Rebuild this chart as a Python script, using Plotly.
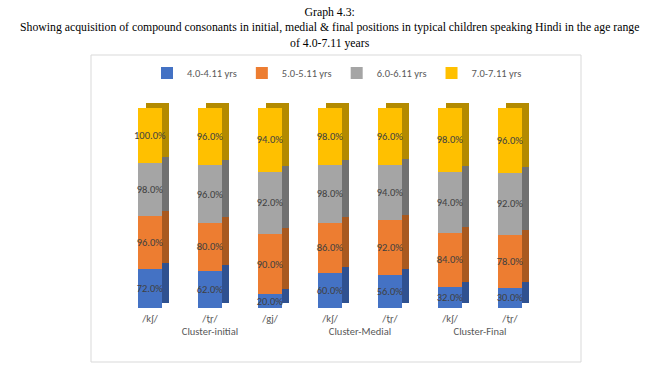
import plotly.graph_objects as go

clusters = ["Cluster-initial", "Cluster-initial", "Cluster-initial",
            "Cluster-Medial", "Cluster-Medial", "Cluster-Final", "Cluster-Final"]
sounds = ["/kʃ/", "/t̪r/", "/gj/", "/kʃ/", "/t̪r/", "/kʃ/", "/t̪r/"]

series_names = ["4.0-4.11 yrs", "5.0-5.11 yrs", "6.0-6.11 yrs", "7.0-7.11 yrs"]
age_4 = [72, 62, 20, 60, 56, 32, 30]
age_5 = [96, 80, 90, 86, 92, 84, 78]
age_6 = [98, 96, 92, 98, 94, 94, 92]
age_7 = [100, 96, 94, 98, 96, 98, 96]
series_values = [age_4, age_5, age_6, age_7]

front_colors = ["#4472C4", "#ED7D31", "#A5A5A5", "#FFC000"]
side_colors = ["#2F5190", "#A9591F", "#717171", "#B38A00"]

W, H = 658, 375
ml, mr, mt, mb = 120, 118, 96, 67
plot_h = H - mt - mb            # 212 px
plot_w = W - ml - mr
n = len(sounds)
slot = plot_w / n
px_per_unit = 2.0               # 100 % -> 200 px
y_top = plot_h / px_per_unit    # axis top value
dx = 7.5 / slot
dy = 5.5 / px_per_unit

FONT = "Calibri, Carlito, Lato, sans-serif"

fig = go.Figure()

# depth (side/top faces) drawn on the base axes
for name, vals, col in zip(series_names, series_values, side_colors):
    fig.add_trace(go.Bar(
        x=[clusters, sounds], y=vals, marker=dict(color=col, line=dict(width=0)),
        showlegend=False, hoverinfo="skip", xaxis="x", yaxis="y",
    ))

# front faces on the overlay axes
for name, vals, col in zip(series_names, series_values, front_colors):
    fig.add_trace(go.Bar(
        x=[clusters, sounds], y=vals, name=name,
        marker=dict(color=col, line=dict(width=0)),
        text=[f"{v:.1f}%" for v in vals],
        textposition="inside", insidetextanchor="middle",
        constraintext="none", textangle=0,
        textfont=dict(family=FONT, size=10.5, color="#404040"),
        xaxis="x2", yaxis="y2",
    ))

fig.update_layout(
    width=W, height=H,
    margin=dict(l=ml, r=mr, t=mt, b=mb, autoexpand=False),
    paper_bgcolor="white", plot_bgcolor="rgba(0,0,0,0)",
    barmode="stack", barnorm="percent", bargap=1 - 23.5 / slot,
    uniformtext=dict(minsize=10.5, mode="show"),
    xaxis=dict(type="multicategory", visible=False, automargin=False,
               range=[-0.5 - dx, n - 0.5 - dx]),
    yaxis=dict(visible=False, automargin=False, range=[-dy, y_top - dy]),
    xaxis2=dict(type="multicategory", overlaying="x", side="bottom", automargin=False,
                range=[-0.5, n - 0.5], showdividers=False, showline=False,
                showgrid=False, ticks="", zeroline=False, ticklabelstandoff=2,
                tickfont=dict(family=FONT, size=10.5, color="#595959")),
    yaxis2=dict(overlaying="y", visible=False, automargin=False, range=[0, y_top]),
    legend=dict(orientation="h", x=(337 - ml) / plot_w, xanchor="center",
                y=(H - mb - 73) / plot_h, yanchor="middle",
                traceorder="normal",
                font=dict(family=FONT, size=10.5, color="#595959"),
                itemwidth=30, bgcolor="rgba(0,0,0,0)"),
    annotations=[dict(
        text="Graph 4.3:<br>Showing acquisition of compound consonants in initial, medial &amp; final positions in typical children speaking Hindi in the age range<br>of 4.0-7.11 years",
        xref="paper", yref="paper", x=(329 - ml) / plot_w, xanchor="center",
        y=(H - mb - 4) / plot_h, yanchor="top", showarrow=False, align="center",
        font=dict(family="Liberation Serif, Times New Roman, serif", size=11.75, color="black"),
    )],
    shapes=[dict(type="rect", xref="paper", yref="paper",
                 x0=(91 - ml) / plot_w, x1=(581 - ml) / plot_w,
                 y0=(H - mb - 362) / plot_h, y1=(H - mb - 55) / plot_h,
                 line=dict(color="#D9D9D9", width=1), fillcolor="rgba(0,0,0,0)", layer="below")],
)

fig.write_html("out.html", config={"displayModeBar": False},
               post_script="document.body.style.margin='0';document.body.style.padding='0';")
